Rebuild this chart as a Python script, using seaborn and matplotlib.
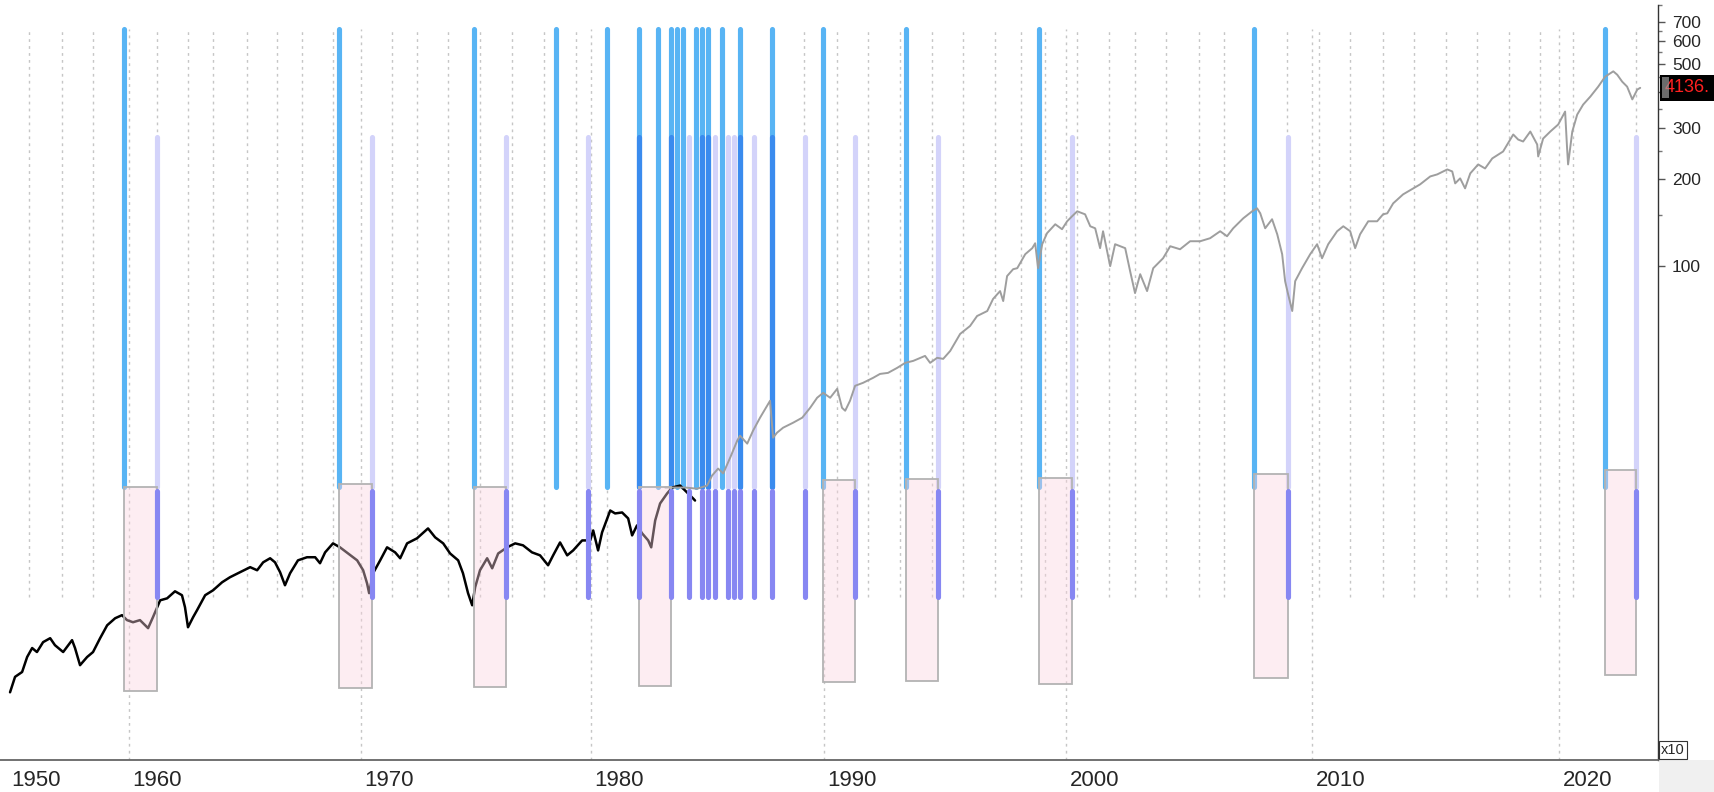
import numpy as np
import pandas as pd
import seaborn as sns
import matplotlib.pyplot as plt
from matplotlib.patches import Rectangle

# older index (black), plotted on the chart's x10 scale
old_year = [1954.78, 1955.0, 1955.31, 1955.53, 1955.75, 1955.96, 1956.23, 1956.54, 1956.75, 1957.11,
            1957.50, 1957.63, 1957.85, 1958.16, 1958.42, 1958.73, 1959.04, 1959.39, 1959.69, 1959.91,
            1960.17, 1960.47, 1960.82, 1961.03, 1961.34, 1961.64, 1961.98, 1962.28, 1962.41, 1962.54,
            1962.76, 1962.93, 1963.28, 1963.62, 1964.01, 1964.35, 1964.78, 1965.22, 1965.52, 1965.78,
            1966.08, 1966.29, 1966.51, 1966.72, 1966.94, 1967.28, 1967.67, 1968.02, 1968.23, 1968.45,
            1968.79, 1969.09, 1969.44, 1969.83, 1970.09, 1970.26, 1970.35, 1970.52, 1970.83, 1971.13,
            1971.48, 1971.70, 1972.00, 1972.43, 1972.91, 1973.22, 1973.57, 1973.87, 1974.22, 1974.43,
            1974.65, 1974.83, 1974.96, 1975.17, 1975.48, 1975.70, 1975.96, 1976.35, 1976.70, 1977.04,
            1977.43, 1977.78, 1978.13, 1978.35, 1978.65, 1978.96, 1979.22, 1979.61, 1979.96, 1980.09,
            1980.30, 1980.47, 1980.82, 1981.03, 1981.33, 1981.59, 1981.76, 1981.97, 1982.19, 1982.45,
            1982.58, 1982.75, 1982.96, 1983.26, 1983.48, 1983.82, 1984.12, 1984.38, 1984.46]
old_val = [3.36, 3.80, 3.95, 4.45, 4.78, 4.63, 5.01, 5.17, 4.89, 4.63,
           5.09, 4.78, 4.17, 4.45, 4.63, 5.17, 5.73, 6.06, 6.21, 5.97,
           5.87, 5.97, 5.60, 6.11, 6.99, 7.10, 7.51, 7.28, 6.62, 5.64,
           6.11, 6.46, 7.28, 7.57, 8.07, 8.40, 8.74, 9.10, 8.88, 9.46,
           9.77, 9.46, 8.74, 7.88, 8.67, 9.61, 9.85, 9.85, 9.39, 10.24,
           11.00, 10.66, 10.15, 9.61, 8.88, 8.00, 7.40, 8.67, 9.61, 10.66,
           10.24, 9.77, 11.00, 11.45, 12.39, 11.54, 11.00, 10.15, 9.61, 8.67,
           7.40, 6.72, 7.76, 8.88, 9.77, 9.02, 10.15, 10.66, 11.00, 10.83,
           10.24, 10.00, 9.24, 10.00, 11.08, 10.00, 10.40, 11.26, 11.26, 12.19,
           10.40, 12.0, 14.29, 13.96, 14.07, 13.42, 11.72, 12.69, 11.91, 11.26,
           10.66, 13.20, 15.11, 16.36, 17.16, 17.43, 16.49, 15.72, 15.47]

# S&P 500 / 10 (grey)
spx_year = [1983.18, 1984.03, 1984.55, 1984.98, 1985.19, 1985.45, 1985.67, 1985.97, 1986.27, 1986.39,
            1986.70, 1986.95, 1987.25, 1987.60, 1987.68, 1987.81, 1987.98, 1988.24, 1988.67, 1989.06,
            1989.40, 1989.70, 1989.96, 1990.25, 1990.54, 1990.74, 1990.87, 1991.07, 1991.28, 1991.61,
            1992.02, 1992.31, 1992.64, 1993.02, 1993.35, 1993.68, 1994.17, 1994.38, 1994.67, 1994.92,
            1995.21, 1995.62, 1996.03, 1996.32, 1996.74, 1996.98, 1997.27, 1997.40, 1997.56, 1997.81,
            1997.98, 1998.31, 1998.60, 1998.72, 1998.84, 1999.01, 1999.21, 1999.55, 1999.83, 2000.04,
            2000.24, 2000.45, 2000.77, 2000.98, 2001.18, 2001.38, 2001.50, 2001.79, 2001.99, 2002.40,
            2002.60, 2002.80, 2003.01, 2003.29, 2003.54, 2003.94, 2004.23, 2004.63, 2005.04, 2005.45,
            2005.85, 2006.26, 2006.54, 2006.79, 2007.20, 2007.56, 2007.76, 2007.89, 2008.09, 2008.37,
            2008.58, 2008.78, 2008.90, 2009.02, 2009.19, 2009.31, 2009.59, 2009.92, 2010.20, 2010.40,
            2010.65, 2011.01, 2011.26, 2011.54, 2011.74, 2011.94, 2012.27, 2012.63, 2012.87, 2013.04,
            2013.28, 2013.68, 2014.09, 2014.37, 2014.78, 2015.06, 2015.47, 2015.67, 2015.79, 2015.99,
            2016.19, 2016.40, 2016.72, 2017.00, 2017.29, 2017.73, 2018.14, 2018.34, 2018.54, 2018.83,
            2019.11, 2019.15, 2019.35, 2019.64, 2019.96, 2020.24, 2020.32, 2020.36, 2020.53, 2020.73,
            2020.97, 2021.26, 2021.58, 2021.86, 2022.19, 2022.35, 2022.55, 2022.75, 2022.96, 2023.16,
            2023.28]
spx_val = [17.16, 17.16, 17.0, 17.43, 18.87, 19.95, 19.2, 21.78, 24.92, 25.93,
           24.34, 26.98, 29.92, 33.43, 34.24, 25.52, 26.56, 27.63, 28.75, 29.92,
           32.37, 35.07, 36.47, 35.07, 37.66, 32.37, 31.62, 34.24, 38.57, 39.5,
           41.08, 42.4, 42.75, 44.5, 46.3, 47.03, 48.94, 46.3, 48.2, 47.8,
           50.92, 58.3, 62.10, 67.23, 69.96, 77.0, 82.0, 75.74, 92.4, 97.6,
           98.4, 110.0, 115.4, 120.0, 98.4, 119.1, 130.0, 139.6, 134.2, 142.95,
           148.74, 154.76, 151.1, 137.38, 135.2, 115.4, 132.04, 100.0, 119.1, 115.4,
           96.1, 80.7, 93.8, 82.0, 98.4, 106.5, 117.2, 114.4, 121.96, 121.96,
           124.9, 132.04, 126.9, 135.2, 146.4, 154.76, 158.5, 152.3, 135.2, 145.3,
           128.9, 110.0, 88.77, 80.1, 69.96, 88.77, 98.4, 110.0, 119.1, 106.5,
           119.1, 132.04, 137.38, 132.04, 115.4, 128.9, 142.95, 142.95, 151.1, 152.3,
           164.9, 177.1, 185.8, 191.8, 204.3, 207.6, 216.0, 212.6, 193.3, 201.2,
           185.8, 209.3, 224.8, 217.7, 235.8, 249.2, 285.3, 274.0, 269.8, 292.1,
           263.4, 239.5, 276.2, 292.1, 308.9, 342.4, 255.1, 224.8, 292.1, 334.4,
           362.0, 385.7, 417.6, 452.1, 471.7, 459.1, 434.5, 417.6, 377.3, 407.9,
           413.6]

# signal dates (light blue) and their follow-up dates (lavender / purple)
signal_year = [1959.76, 1969.05, 1974.90, 1978.46, 1980.67, 1982.06, 1982.89, 1983.42, 1983.70, 1983.96,
               1984.51, 1984.76, 1985.03, 1985.61, 1986.39, 1987.78, 1989.94, 1993.38, 1998.88, 2007.62,
               2021.84]
follow_year = [1961.19, 1970.47, 1976.30, 1979.86, 1982.06, 1983.42, 1984.22, 1984.76, 1985.03, 1985.32,
               1985.89, 1986.15, 1986.39, 1986.97, 1987.78, 1989.16, 1991.28, 1994.70, 2000.22, 2009.00,
               2023.12]

# shaded boxes from signal to follow-up (vertical extent as fraction of the plot height)
box_start = [1959.76, 1969.05, 1974.90, 1982.06, 1989.94, 1993.38, 1998.88, 2007.62, 2021.84]
box_end = [1961.19, 1970.47, 1976.30, 1983.42, 1991.28, 1994.70, 2000.22, 2009.00, 2023.12]
box_top = [0.362, 0.366, 0.362, 0.362, 0.371, 0.372, 0.3735, 0.379, 0.384]
box_bot = [0.091, 0.095, 0.097, 0.098, 0.103, 0.104, 0.101, 0.108, 0.113]

# dotted cycle lines
cycle_year = [1955.63, 1957.05, 1958.43, 1961.21, 1962.56, 1963.63, 1965.07, 1966.39, 1967.44, 1968.79,
              1971.33, 1972.42, 1973.79, 1975.17, 1976.55, 1977.96, 1979.33, 1980.70, 1989.14, 1990.52,
              1991.83, 1993.14, 1994.45, 1995.73, 1997.07, 1998.13, 1999.13, 2000.46, 2001.75, 2002.78,
              2004.05, 2005.41, 2006.42, 2008.97, 2010.26, 2011.54, 2012.85, 2014.14, 2015.43, 2016.69,
              2017.98, 2019.23, 2020.54, 2023.12]

# the original time axis is not uniform: position of each decade along it
decades = [1950, 1960, 1970, 1980, 1990, 2000, 2010, 2020, 2030]
decade_px = [-99, 129, 361, 591, 824, 1066, 1312, 1559, 1806]

sns.set_style('white')
plt.rcParams['font.family'] = ['Liberation Sans', 'DejaVu Sans']

fig = plt.figure(figsize=(17.15, 7.92), dpi=100)
ax = fig.add_axes([0, 32 / 792, 1658 / 1715, 755 / 792])

fwd = lambda x: np.interp(x, decades, decade_px)
inv = lambda p: np.interp(p, decade_px, decades)
ax.set_xscale('function', functions=(fwd, inv))
ax.set_yscale('log')

blue = '#58b4f4'
lav = '#d3d3fa'
both = '#3a8bee'
purple = '#8787f2'
dots = dict(color='#c6c6c6', lw=1, ls=(0, (2, 3)), zorder=1)

for x in cycle_year:
    ax.axvline(x, ymin=0.216, ymax=0.968, **dots)
for x in decades[1:-1]:
    ax.axvline(x, ymin=0, ymax=0.968, **dots)

for x in follow_year:
    ax.axvline(x, ymin=0.3615, ymax=0.825, color=lav, lw=3.7, zorder=2)
    ax.axvline(x, ymin=0.216, ymax=0.3567, color=purple, lw=3.7, zorder=5)
for x in signal_year:
    ax.axvline(x, ymin=0.3615, ymax=0.968, color=blue, lw=3.7, zorder=2)
    if x in follow_year:
        ax.axvline(x, ymin=0.3615, ymax=0.825, color=both, lw=3.7, zorder=2.1)

old = pd.DataFrame({'year': old_year, 'value': old_val})
spx = pd.DataFrame({'year': spx_year, 'value': spx_val})
sns.lineplot(data=old, x='year', y='value', color='black', lw=1.8, ax=ax,
             estimator=None, sort=False, zorder=3)
sns.lineplot(data=spx, x='year', y='value', color='#9e9e9e', lw=1.4, ax=ax,
             estimator=None, sort=False, zorder=3)

for x0, x1, top, bot in zip(box_start, box_end, box_top, box_bot):
    ax.axvspan(x0, x1, ymin=bot, ymax=top, facecolor='#fbd3df', alpha=0.4,
               edgecolor='none', zorder=4)
    ax.axvspan(x0, x1, ymin=bot, ymax=top, facecolor='none', edgecolor='#b3b3b3',
               lw=1.3, zorder=4)

ax.set_xlim(1954.34, 2024.0)
ax.set_ylim(1.96, 789)
ax.set_xlabel('')
ax.set_ylabel('')

# x axis: decade ticks with labels to the right of the tick line
ax.set_xticks(decades[1:-1], [''] * 7)
ax.set_xticks([y for y in range(1955, 2024) if y % 10], minor=True)
ax.tick_params(axis='x', which='major', length=24, width=1.2, color='#555555', direction='out')
ax.tick_params(axis='x', which='minor', length=5, width=1, color='#555555', direction='out')
for d in decades[1:-1]:
    ax.annotate(str(d), xy=(d, 0), xycoords=('data', 'axes fraction'), xytext=(2.5, -7),
                textcoords='offset points', ha='left', va='top', fontsize=16,
                annotation_clip=False)
ax.annotate('1950', xy=(0, 0), xycoords='axes fraction', xytext=(8, -7),
            textcoords='offset points', ha='left', va='top', fontsize=16)

# y axis on the right
ax.yaxis.tick_right()
ax.set_yticks([100, 200, 300, 400, 500, 600, 700], ['100', '200', '300', '', '500', '600', '700'])
ax.set_yticks([150, 250, 350, 450, 550, 650, 800], minor=True)
ax.yaxis.set_minor_formatter(plt.NullFormatter())
ax.tick_params(axis='y', which='major', length=5, width=1, color='#555555', labelsize=12.5, pad=5)
ax.tick_params(axis='y', which='minor', length=3, width=1, color='#777777')

for s in ['top', 'left']:
    ax.spines[s].set_visible(False)
ax.spines['bottom'].set_color('#666666')
ax.spines['bottom'].set_linewidth(1.3)
ax.spines['right'].set_color('#333333')
ax.spines['right'].set_linewidth(1)

# last value marker
last = spx_val[-1]
ax.annotate(f'{last * 10:.0f}.', xy=(1, last), xycoords=('axes fraction', 'data'),
            xytext=(5, 0), textcoords='offset points', ha='left', va='center',
            color='#ff2020', fontsize=13, annotation_clip=False,
            bbox=dict(boxstyle='square,pad=0.25', fc='black', ec='none'))
fig.add_artist(Rectangle((1662 / 1715, (792 - 98) / 792), 7 / 1715, 21 / 792,
                         transform=fig.transFigure, fc='#9a9a9a', ec='none', alpha=0.7, zorder=10))

fig.add_artist(Rectangle((1659 / 1715, 0), 56 / 1715, 32 / 792, transform=fig.transFigure,
                         fc='#f0f0f0', ec='none', zorder=0))
fig.text(1661 / 1715, (792 - 757) / 792, 'x10', fontsize=10.5, ha='left', va='bottom',
         bbox=dict(boxstyle='square,pad=0.15', fc='white', ec='#333333', lw=0.8))

fig.savefig('out.png', dpi=100)
